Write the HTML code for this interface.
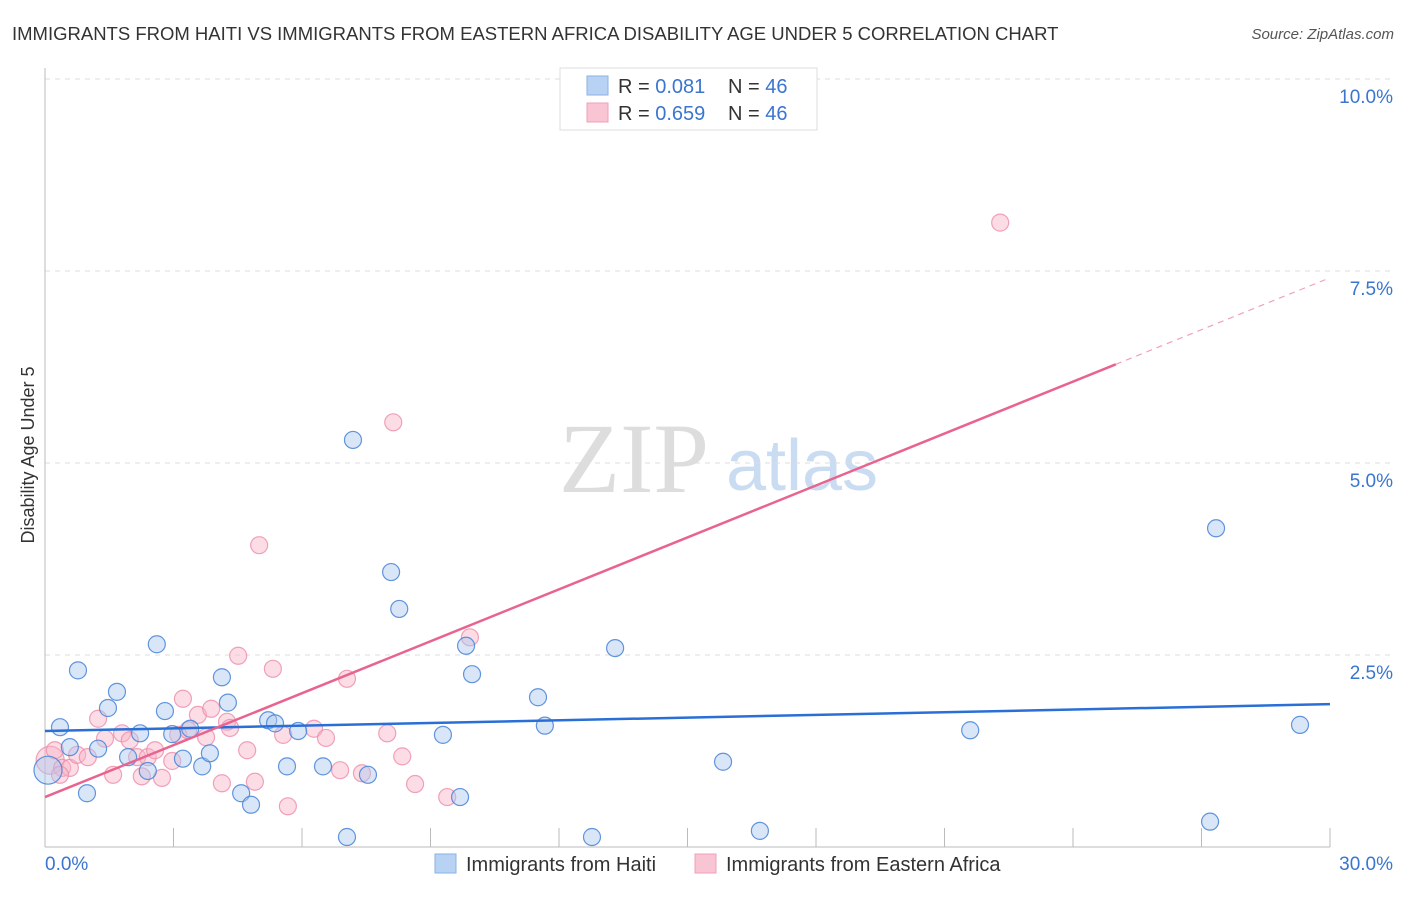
<!DOCTYPE html>
<html><head><meta charset="utf-8"><style>
body{margin:0;background:#fff;font-family:"Liberation Sans",sans-serif;}
</style></head><body>
<svg id="chart" width="1406" height="892" font-family="Liberation Sans, sans-serif">
<text x="12" y="40" font-size="18.5" fill="#333">IMMIGRANTS FROM HAITI VS IMMIGRANTS FROM EASTERN AFRICA DISABILITY AGE UNDER 5 CORRELATION CHART</text>
<text x="1394" y="39" font-size="15" fill="#555" font-style="italic" text-anchor="end">Source: ZipAtlas.com</text>
<text x="634" y="492" font-size="100" fill="#ddd" style="font-family:'Liberation Serif',serif" text-anchor="middle">ZIP</text>
<text x="802" y="490" font-size="72" fill="#c9dcf2" text-anchor="middle">atlas</text>
<text transform="translate(34,455) rotate(-90)" font-size="18" fill="#333" text-anchor="middle">Disability Age Under 5</text>
<g id="grid"></g><g id="pts"></g><g id="lines"></g>
<g>
<rect x="560" y="68" width="257" height="62" fill="#fff" stroke="#ddd"/>
<rect x="587" y="76" width="21" height="19" fill="#b8d2f3" stroke="#8ab2e6"/>
<rect x="587" y="103" width="21" height="19" fill="#f9c4d3" stroke="#f0a0b8"/>
<text x="618" y="93" font-size="20" fill="#333">R = <tspan fill="#3a75d0">0.081</tspan><tspan x="728">N = </tspan><tspan fill="#3a75d0">46</tspan></text>
<text x="618" y="120" font-size="20" fill="#333">R = <tspan fill="#3a75d0">0.659</tspan><tspan x="728">N = </tspan><tspan fill="#3a75d0">46</tspan></text>
</g>
<g>
<rect x="435" y="854" width="21" height="19" fill="#b8d2f3" stroke="#8ab2e6"/>
<text x="466" y="871" font-size="20" fill="#333">Immigrants from Haiti</text>
<rect x="695" y="854" width="21" height="19" fill="#f9c4d3" stroke="#f0a0b8"/>
<text x="726" y="871" font-size="20" fill="#333">Immigrants from Eastern Africa</text>
</g>
</svg>
<script>
const blueX=[0.35,0.58,0.98,0.77,1.24,1.47,1.68,1.94,2.22,2.40,2.61,2.80,2.97,3.22,3.39,3.67,3.85,4.13,4.27,4.58,4.81,5.21,5.37,5.65,5.91,6.49,7.05,7.19,7.54,8.08,8.27,9.29,9.69,9.83,9.97,11.51,11.67,12.77,13.31,15.83,16.69,21.60,27.20,27.34,29.30,0.07];
const blueY=[1.56,1.30,0.70,2.30,1.28,1.81,2.02,1.17,1.48,0.99,2.64,1.77,1.47,1.15,1.54,1.05,1.22,2.21,1.88,0.70,0.55,1.65,1.61,1.05,1.51,1.05,0.13,5.30,0.94,3.58,3.10,1.46,0.65,2.62,2.25,1.95,1.58,0.13,2.59,1.11,0.21,1.52,0.33,4.15,1.59,1.00];
const pinkX=[0.12,0.23,0.40,0.58,0.75,1.00,1.24,1.40,1.59,1.80,1.98,2.15,2.26,2.40,2.57,2.73,2.97,3.11,3.22,3.34,3.57,3.76,3.88,4.13,4.25,4.32,4.51,4.72,4.90,5.00,5.32,5.56,5.67,6.28,6.56,6.89,7.05,7.40,7.99,8.13,8.34,8.64,9.39,9.92,22.30,0.35];
const pinkY=[1.13,1.26,1.03,1.03,1.20,1.17,1.67,1.41,0.94,1.48,1.39,1.17,0.92,1.17,1.26,0.90,1.12,1.46,1.93,1.52,1.72,1.43,1.80,0.83,1.63,1.55,2.49,1.26,0.85,3.93,2.32,1.46,0.53,1.54,1.42,1.00,2.19,0.96,1.48,5.53,1.18,0.82,0.65,2.73,8.13,0.94];
const blueBig=[45], pinkBig=[0];
const blueFit=[1.51,1.86];
const pinkFit=[0.65,0.2254];
const yTicks=[2.5,5.0,7.5,10.0];
const xTickLabels=["0.0%","30.0%"];
const NS="http://www.w3.org/2000/svg";
const sx=v=>45+v*1285/30, sy=v=>847-v*76.8;
function mk(t,a,p){const e=document.createElementNS(NS,t);for(const k in a)e.setAttribute(k,a[k]);p.appendChild(e);return e;}
const g=document.getElementById('grid');
yTicks.forEach(t=>{
 const l=mk('line',{x1:45,x2:1392,y1:sy(t),y2:sy(t),stroke:'#ddd','stroke-dasharray':'5,5'},g);
 
 
 const tx=mk('text',{x:1393,y:sy(t)+24,'font-size':19,fill:'#3a75d0','text-anchor':'end'},g);
 tx.textContent=t.toFixed(1)+'%';
 
 
});
mk('line',{x1:45,x2:45,y1:68,y2:847,stroke:'#bbb'},g);
mk('line',{x1:45,x2:1330,y1:847,y2:847,stroke:'#bbb'},g);
for(let i=0;i<=10;i++){const x=sx(i*3);mk('line',{x1:x,x2:x,y1:828,y2:847,stroke:'#bbb'},g);}
xTickLabels.forEach((s,i)=>{
 const tx=mk('text',{x:i?1393:45,y:870,'font-size':19,fill:'#3a75d0','text-anchor':i?'end':'start'},g);
 tx.textContent=s;
 
 
});
const P=document.getElementById('pts');
pinkX.forEach((v,i)=>{
 const c=mk('circle',{cx:sx(v),cy:sy(pinkY[i]),r:pinkBig.includes(i)?14:8.5,fill:'rgba(248,180,200,0.45)',stroke:'rgba(236,140,170,0.8)','stroke-width':1.2},P);
 
 
});
blueX.forEach((v,i)=>{
 const c=mk('circle',{cx:sx(v),cy:sy(blueY[i]),r:blueBig.includes(i)?14:8.5,fill:'rgba(170,200,240,0.45)',stroke:'rgba(70,130,215,0.85)','stroke-width':1.2},P);
 
 
});
const L=document.getElementById('lines');
const bl=mk('line',{x1:sx(0),y1:sy(blueFit[0]),x2:sx(30),y2:sy(blueFit[1]),stroke:'#2a6fd6','stroke-width':2.5},L);


const pe=25;
const pl=mk('line',{x1:sx(0),y1:sy(pinkFit[0]),x2:sx(pe),y2:sy(pinkFit[0]+pinkFit[1]*pe),stroke:'#e8648f','stroke-width':2.5},L);


const pd=mk('line',{x1:sx(pe),y1:sy(pinkFit[0]+pinkFit[1]*pe),x2:sx(30),y2:sy(pinkFit[0]+pinkFit[1]*30),stroke:'#f0a0b8','stroke-width':1.2,'stroke-dasharray':'6,5'},L);


</script>
</body></html>
